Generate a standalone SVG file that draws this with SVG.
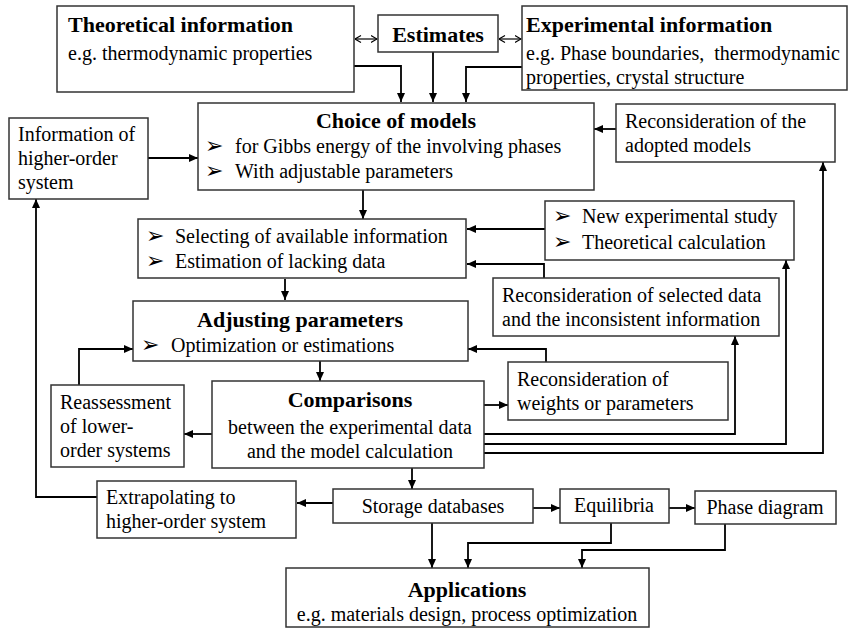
<svg xmlns="http://www.w3.org/2000/svg" width="852" height="629" viewBox="0 0 852 629">
<style>
.box{fill:#fff;stroke:#333;stroke-width:1.5}
.t{font-family:'Liberation Serif',Tinos,'Times New Roman','DejaVu Serif',serif;font-size:20px;fill:#000}
.b{font-family:'Liberation Serif',Tinos,'Times New Roman','DejaVu Serif',serif;font-size:22px;font-weight:bold;fill:#000}
.bl{font-family:'DejaVu Sans',sans-serif;font-size:22px;fill:#000}
.c{text-anchor:middle}
.ln{fill:none;stroke:#000;stroke-width:1.8}
.lt{fill:none;stroke:#000;stroke-width:1.2}
</style>
<defs>
<marker id="ah" markerWidth="9" markerHeight="8" refX="9" refY="4" orient="auto" markerUnits="userSpaceOnUse"><path d="M0,0 L9,4 L0,8 Z" fill="#000"/></marker>
<marker id="oa" markerWidth="7" markerHeight="8" refX="6.5" refY="4" orient="auto-start-reverse" markerUnits="userSpaceOnUse"><path d="M0.5,0.5 L6.5,4 L0.5,7.5" fill="none" stroke="#000" stroke-width="1.1"/></marker>
</defs>

<g id="connectors">
<line class="lt" x1="355" y1="39" x2="377" y2="39" marker-start="url(#oa)" marker-end="url(#oa)"/>
<line class="lt" x1="499" y1="39" x2="521" y2="39" marker-start="url(#oa)" marker-end="url(#oa)"/>
<polyline class="ln" points="354,66 401,66 401,102" marker-end="url(#ah)"/>
<line class="ln" x1="433" y1="52" x2="433" y2="102" marker-end="url(#ah)"/>
<polyline class="ln" points="522,67 466,67 466,102" marker-end="url(#ah)"/>
<line class="ln" x1="148" y1="158" x2="198" y2="158" marker-end="url(#ah)"/>
<line class="ln" x1="616" y1="129" x2="594" y2="129" marker-end="url(#ah)"/>
<line class="ln" x1="363" y1="190" x2="363" y2="219" marker-end="url(#ah)"/>
<line class="ln" x1="545" y1="229" x2="467" y2="229" marker-end="url(#ah)"/>
<polyline class="ln" points="544,278 544,264 467,264" marker-end="url(#ah)"/>
<line class="ln" x1="285" y1="279" x2="285" y2="300" marker-end="url(#ah)"/>
<polyline class="ln" points="546,362 546,349 468,349" marker-end="url(#ah)"/>
<polyline class="ln" points="79,385 79,349 133,349" marker-end="url(#ah)"/>
<line class="ln" x1="320" y1="361" x2="320" y2="381" marker-end="url(#ah)"/>
<line class="ln" x1="484" y1="405" x2="508" y2="405" marker-end="url(#ah)"/>
<line class="ln" x1="212" y1="434" x2="184" y2="434" marker-end="url(#ah)"/>
<polyline class="ln" points="484,434 735,434 735,336" marker-end="url(#ah)"/>
<polyline class="ln" points="484,444 786,444 786,260" marker-end="url(#ah)"/>
<polyline class="ln" points="484,453 823,453 823,162" marker-end="url(#ah)"/>
<line class="ln" x1="412" y1="468" x2="412" y2="489" marker-end="url(#ah)"/>
<line class="ln" x1="333" y1="503" x2="297" y2="503" marker-end="url(#ah)"/>
<polyline class="ln" points="97,497 36,497 36,199" marker-end="url(#ah)"/>
<line class="ln" x1="533" y1="508" x2="560" y2="508" marker-end="url(#ah)"/>
<line class="ln" x1="669" y1="508" x2="695" y2="508" marker-end="url(#ah)"/>
<line class="ln" x1="432" y1="523" x2="432" y2="568" marker-end="url(#ah)"/>
<polyline class="ln" points="611,523 611,543 468,543 468,568" marker-end="url(#ah)"/>
<polyline class="ln" points="725,524 725,550 582,550 582,568" marker-end="url(#ah)"/>
</g>

<g id="theoretical">
<rect class="box" x="57" y="6" width="297" height="86"/>
<text class="b" x="68" y="32">Theoretical information</text>
<text class="t" x="68" y="60">e.g. thermodynamic properties</text>
</g>
<g id="estimates">
<rect class="box" x="378" y="15" width="120" height="37"/>
<text class="b c" x="438" y="42">Estimates</text>
</g>
<g id="experimental">
<rect class="box" x="522" y="6" width="325" height="84"/>
<text class="b" x="526" y="32">Experimental information</text>
<text class="t" x="526" y="60" xml:space="preserve">e.g. Phase boundaries,  thermodynamic</text>
<text class="t" x="526" y="84">properties, crystal structure</text>
</g>
<g id="choice">
<rect class="box" x="198" y="103" width="396" height="87"/>
<text class="b c" x="396" y="128">Choice of models</text>
<text class="bl" x="205" y="153">➢</text>
<text class="t" x="235" y="153">for Gibbs energy of the involving phases</text>
<text class="bl" x="205" y="178">➢</text>
<text class="t" x="235" y="178">With adjustable parameters</text>
</g>
<g id="info-higher">
<rect class="box" x="9" y="118" width="139" height="81"/>
<text class="t" x="18" y="141">Information of</text>
<text class="t" x="18" y="165">higher-order</text>
<text class="t" x="18" y="189">system</text>
</g>
<g id="recon-models">
<rect class="box" x="616" y="104" width="219" height="58"/>
<text class="t" x="625" y="128">Reconsideration of the</text>
<text class="t" x="625" y="152">adopted models</text>
</g>
<g id="selecting">
<rect class="box" x="138" y="219" width="328" height="59"/>
<text class="bl" x="146" y="243">➢</text>
<text class="t" x="175" y="243">Selecting of available information</text>
<text class="bl" x="146" y="268">➢</text>
<text class="t" x="175" y="268">Estimation of lacking data</text>
</g>
<g id="new-exp">
<rect class="box" x="545" y="201" width="249" height="59"/>
<text class="bl" x="553" y="223">➢</text>
<text class="t" x="582" y="223">New experimental study</text>
<text class="bl" x="553" y="249">➢</text>
<text class="t" x="582" y="249">Theoretical calculation</text>
</g>
<g id="recon-selected">
<rect class="box" x="493" y="278" width="286" height="58"/>
<text class="t" x="502" y="302">Reconsideration of selected data</text>
<text class="t" x="502" y="326">and the inconsistent information</text>
</g>
<g id="adjusting">
<rect class="box" x="133" y="301" width="335" height="60"/>
<text class="b c" x="300" y="327">Adjusting parameters</text>
<text class="bl" x="141" y="352">➢</text>
<text class="t" x="171" y="352">Optimization or estimations</text>
</g>
<g id="recon-weights">
<rect class="box" x="508" y="362" width="220" height="58"/>
<text class="t" x="517" y="386">Reconsideration of</text>
<text class="t" x="517" y="410">weights or parameters</text>
</g>
<g id="reassessment">
<rect class="box" x="51" y="385" width="133" height="82"/>
<text class="t" x="60" y="409">Reassessment</text>
<text class="t" x="60" y="433">of lower-</text>
<text class="t" x="60" y="457">order systems</text>
</g>
<g id="comparisons">
<rect class="box" x="212" y="381" width="272" height="87"/>
<text class="b c" x="350" y="407">Comparisons</text>
<text class="t c" x="350" y="434">between the experimental data</text>
<text class="t c" x="350" y="458">and the model calculation</text>
</g>
<g id="storage">
<rect class="box" x="333" y="489" width="200" height="34"/>
<text class="t c" x="433" y="513">Storage databases</text>
</g>
<g id="extrapolating">
<rect class="box" x="97" y="481" width="199" height="57"/>
<text class="t" x="106" y="504">Extrapolating to</text>
<text class="t" x="106" y="528">higher-order system</text>
</g>
<g id="equilibria">
<rect class="box" x="560" y="489" width="109" height="34"/>
<text class="t c" x="614" y="512">Equilibria</text>
</g>
<g id="phase-diagram">
<rect class="box" x="695" y="491" width="141" height="33"/>
<text class="t c" x="765" y="514">Phase diagram</text>
</g>
<g id="applications">
<rect class="box" x="286" y="568" width="363" height="59"/>
<text class="b c" x="467" y="597">Applications</text>
<text class="t c" x="467" y="621">e.g. materials design, process optimization</text>
</g>
</svg>
